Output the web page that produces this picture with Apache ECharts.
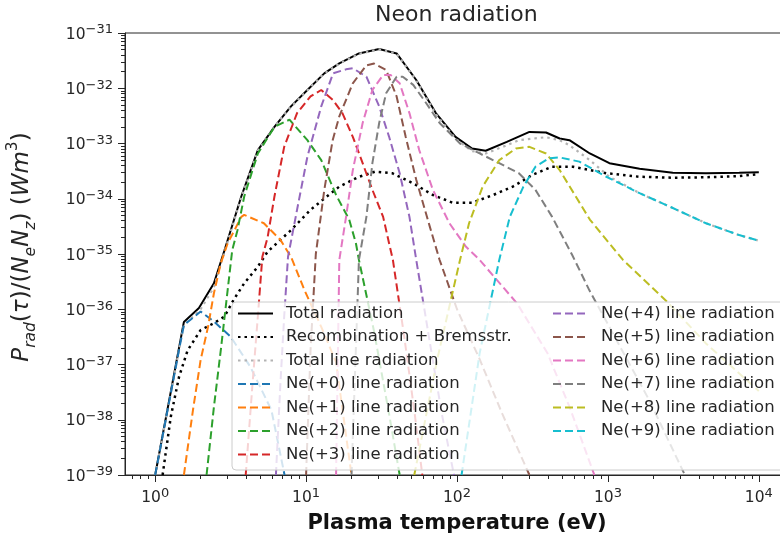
<!DOCTYPE html>
<html>
<head>
<meta charset="utf-8">
<title>Neon radiation</title>
<script src="https://cdn.jsdelivr.net/npm/echarts@6/dist/echarts.min.js"></script>
<style>
  html, body { margin: 0; padding: 0; background: #ffffff; }
  #chart { width: 780px; height: 537px; }
</style>
</head>
<body>
<div id="chart"></div>
<script>
// ---- Data: temperature T (eV) and radiated power coefficient P (W m^3) ----
const seriesNames = [
  'Total radiation', 'Recombination + Bremsstr.', 'Total line radiation',
  'Ne(+0) line radiation', 'Ne(+1) line radiation', 'Ne(+2) line radiation', 'Ne(+3) line radiation',
  'Ne(+4) line radiation', 'Ne(+5) line radiation', 'Ne(+6) line radiation', 'Ne(+7) line radiation',
  'Ne(+8) line radiation', 'Ne(+9) line radiation'
];

const totalT = [1.0, 1.55, 1.95, 2.45, 2.88, 3.72, 4.79, 6.17, 7.94, 10.2, 13.2, 16.6, 22.4, 30.5, 39.8, 53.7, 72.4, 97.7, 125.9, 154.9, 213.8, 302, 389, 479, 556, 759, 1023, 1622, 2692, 4467, 7413, 10000];
const totalP = [1.0e-39, 5.9e-37, 1.05e-36, 2.95e-36, 1.17e-35, 1.10e-34, 7.6e-34, 2.0e-33, 4.7e-33, 9.3e-33, 1.86e-32, 2.82e-32, 4.27e-32, 5.13e-32, 4.27e-32, 1.41e-32, 3.55e-33, 1.32e-33, 8.1e-34, 7.4e-34, 1.07e-33, 1.62e-33, 1.58e-33, 1.23e-33, 1.15e-33, 6.6e-34, 4.4e-34, 3.5e-34, 2.95e-34, 2.88e-34, 2.95e-34, 3.02e-34];

const recombT = [1.12, 1.27, 1.44, 1.64, 2.0, 2.45, 2.88, 3.31, 3.89, 4.79, 5.56, 7.94, 10.7, 14.6, 16.6, 22.4, 28.8, 37.2, 51.3, 69.2, 93.3, 125.9, 173.8, 234.4, 316, 427, 589, 977, 1622, 2692, 4467, 7413, 10000];
const recombP = [1.0e-39, 1.15e-38, 6.0e-38, 1.8e-37, 4.2e-37, 5.6e-37, 7.4e-37, 1.48e-36, 2.95e-36, 5.9e-36, 1.1e-35, 2.7e-35, 6.3e-35, 1.26e-34, 1.66e-34, 2.5e-34, 3.1e-34, 2.9e-34, 1.9e-34, 1.17e-34, 8.5e-35, 8.5e-35, 1.17e-34, 1.66e-34, 2.7e-34, 3.8e-34, 3.8e-34, 2.9e-34, 2.5e-34, 2.4e-34, 2.45e-34, 2.57e-34, 2.8e-34];

const lineTotT = [1.0, 1.48, 1.55, 2.0, 2.45, 2.88, 3.72, 4.79, 6.17, 7.94, 10.2, 13.2, 16.6, 22.4, 30.5, 39.8, 53.7, 72.4, 97.7, 125.9, 154.9, 213.8, 257, 389, 479, 556, 759, 1023, 1622, 2692, 4467, 7413, 10000];
const lineTotP = [1.0e-39, 2.75e-37, 5.2e-37, 1.0e-36, 2.5e-36, 1.1e-35, 1.05e-34, 7.4e-34, 2.0e-33, 4.6e-33, 9.2e-33, 1.85e-32, 2.8e-32, 4.2e-32, 5.05e-32, 4.2e-32, 1.38e-32, 3.4e-33, 1.22e-33, 7.3e-34, 6.6e-34, 9.3e-34, 1.15e-33, 1.3e-33, 1.15e-33, 9.3e-34, 5.0e-34, 2.5e-34, 1.26e-34, 6.8e-35, 3.6e-35, 2.2e-35, 1.74e-35];

const ne0T = [1.0, 1.48, 1.55, 2.0, 2.45, 3.16, 4.27, 5.89, 7.2];
const ne0P = [1.0e-39, 2.75e-37, 5.2e-37, 9.1e-37, 6.0e-37, 3.2e-37, 9.1e-38, 1.5e-38, 1.0e-39];

const ne1T = [1.55, 1.78, 2.0, 2.24, 2.45, 2.72, 3.02, 3.72, 3.89, 5.25, 6.76, 7.94, 9.77, 12.6, 15.8, 17.8, 20.0];
const ne1P = [1.0e-39, 1.5e-38, 1.2e-37, 4.8e-37, 1.95e-36, 6.8e-36, 1.55e-35, 4.7e-35, 5.1e-35, 3.6e-35, 1.8e-35, 8.9e-36, 2.2e-36, 4.8e-37, 1.1e-37, 1.0e-38, 1.0e-39];

const ne2T = [2.19, 2.45, 2.72, 3.02, 3.24, 3.51, 3.89, 4.79, 6.17, 7.76, 10.2, 12.6, 15.8, 19.3, 21.4, 22.4, 28.2, 35.5, 41.7];
const ne2P = [1.0e-39, 1.7e-38, 1.8e-37, 2.2e-36, 1.17e-35, 2.7e-35, 1.1e-34, 6.6e-34, 2.0e-33, 2.7e-33, 1.15e-33, 5.0e-34, 1.17e-34, 4.2e-35, 1.55e-35, 7.8e-36, 4.0e-37, 1.26e-38, 1.0e-39];

const ne3T = [3.98, 4.42, 4.79, 5.13, 5.56, 6.17, 7.16, 8.71, 10.7, 12.6, 15.0, 17.4, 20.4, 23.7, 27.5, 32.4, 35.5, 37.6, 44.7, 52.5, 58.9];
const ne3P = [1.0e-39, 4.6e-38, 7.4e-37, 8.9e-36, 2.0e-35, 1.1e-34, 8.7e-34, 3.55e-33, 7.1e-33, 9.3e-33, 6.2e-33, 3.55e-33, 1.32e-33, 4.4e-34, 1.45e-34, 4.7e-35, 1.55e-35, 7.8e-36, 3.2e-37, 1.26e-38, 1.0e-39];

const ne4T = [6.31, 6.76, 7.16, 7.59, 8.71, 10.2, 12.6, 15.1, 18.4, 20.4, 25.1, 30.5, 35.5, 41.7, 48.4, 53.7, 66.1, 79.4, 95.5];
const ne4P = [1.0e-39, 4.6e-38, 7.4e-37, 8.9e-36, 6.3e-35, 5.75e-34, 4.7e-33, 1.86e-32, 2.2e-32, 2.3e-32, 1.62e-32, 4.7e-33, 1.32e-33, 2.9e-34, 4.7e-35, 7.8e-36, 2.5e-37, 1.26e-38, 1.0e-39];

const ne5T = [10.0, 10.7, 11.6, 13.2, 15.0, 16.6, 20.4, 25.1, 28.2, 33.9, 39.8, 45.7, 53.7, 66.1, 76.7, 100, 141, 200, 302];
const ne5P = [1.0e-39, 1.8e-37, 1.0e-35, 1.45e-34, 1.15e-33, 3.1e-33, 1.23e-32, 2.6e-32, 2.8e-32, 2.15e-32, 7.1e-33, 1.32e-33, 2.2e-34, 3.1e-35, 7.8e-36, 1.0e-36, 1.26e-37, 1.26e-38, 1.0e-39];

const ne6T = [15.8, 16.6, 18.4, 20.4, 23.7, 27.5, 32.4, 36.3, 41.7, 48.4, 56.2, 69.2, 89.1, 114.8, 141.3, 251, 398, 562, 813];
const ne6P = [1.0e-39, 7.8e-36, 4.7e-35, 3.3e-34, 2.35e-33, 9.3e-33, 1.74e-32, 1.74e-32, 1.23e-32, 3.55e-33, 7.6e-34, 1.45e-34, 3.6e-35, 1.35e-35, 7.8e-36, 1.26e-36, 1.6e-37, 1.6e-38, 1.0e-39];

const ne7T = [20.0, 22.4, 25.1, 27.5, 30.5, 33.9, 39.8, 43.7, 51.3, 62.4, 76.7, 104.7, 141.3, 190.5, 257, 331, 427, 581, 754, 1194, 1888, 3236];
const ne7P = [1.0e-39, 7.8e-36, 4.7e-35, 4.4e-34, 2.35e-33, 8.1e-33, 1.62e-32, 1.62e-32, 1.15e-32, 5.4e-33, 2.35e-33, 1.0e-33, 6.6e-34, 4.4e-34, 2.9e-34, 1.45e-34, 4.7e-35, 9.5e-36, 2.2e-36, 2.2e-37, 2.2e-38, 1.0e-39];

const ne8T = [52.1, 74.1, 104.7, 120.2, 147.9, 190.5, 245.5, 302, 389, 479, 759, 1259, 2455, 4467, 10000];
const ne8P = [1.0e-39, 1.26e-37, 7.8e-36, 3.6e-35, 1.66e-34, 5.0e-34, 8.1e-34, 8.7e-34, 6.6e-34, 3.3e-34, 4.2e-35, 7.8e-36, 1.38e-36, 2.4e-37, 3.3e-38];

const ne9T = [107.2, 141.3, 190.5, 223.9, 275.4, 331, 407, 479, 646, 977, 1622, 2692, 4467, 7413, 10000];
const ne9P = [1.0e-39, 1.6e-37, 7.8e-36, 4.7e-35, 1.66e-34, 3.8e-34, 5.4e-34, 5.6e-34, 4.7e-34, 2.5e-34, 1.26e-34, 6.8e-35, 3.6e-35, 2.2e-35, 1.74e-35];

// ---- Axis ticks ----
// x: log axis on T; y: decades of P (power-of-ten exponents)
const xMajorTicks = [1, 10, 100, 1000, 10000];
const yMajorExps = [-39, -38, -37, -36, -35, -34, -33, -32, -31];

const xMinorTicks = [];
for (let e = -1; e <= 4; e++) {
  for (let k = 2; k <= 9; k++) xMinorTicks.push(Number((k * Math.pow(10, e)).toPrecision(3)));
}
const yMinorExps = [];
for (let e = -39; e <= -32; e++) {
  for (let k = 2; k <= 9; k++) yMinorExps.push(e + Math.log10(k));
}

const X_MIN = Math.pow(10, -0.2), X_MAX = Math.pow(10, 4.2);
const Y_MIN_EXP = -39, Y_MAX_EXP = -31;

// ---- Styles ----
const FONT = 'DejaVu Sans';
const INK = '#262626';
const tab10 = ['#1f77b4', '#ff7f0e', '#2ca02c', '#d62728', '#9467bd', '#8c564b', '#e377c2', '#7f7f7f', '#bcbd22', '#17becf'];

// each point is [T, log10(P)] on the decade axis
function pairs(T, P) { return T.map((t, i) => [t, Math.log10(P[i])]); }

function expText(e) { return e < 0 ? '\u2212' + (-e) : String(e); }
function xLabel(v) { return '{b|10}{s|' + expText(Math.round(Math.log10(v))) + '}'; }
function yLabel(v) { return '{b|10}{s|' + expText(Math.round(v)) + '}'; }
const powRich = {
  b: { fontSize: 15.5, fontFamily: FONT, color: INK, verticalAlign: 'bottom' },
  s: { fontSize: 13, fontFamily: FONT, color: INK, verticalAlign: 'bottom', padding: [0, 0, 6, 0] }
};

const lineSeries = [
  { name: seriesNames[0], T: totalT, P: totalP, color: '#000000', width: 2, type: 'solid' },
  { name: seriesNames[1], T: recombT, P: recombP, color: '#000000', width: 2.5, type: [2.5, 4] },
  { name: seriesNames[2], T: lineTotT, P: lineTotP, color: '#b3b3b3', width: 2.2, type: [2.5, 4] },
  { name: seriesNames[3], T: ne0T, P: ne0P, color: tab10[0], width: 2, type: [8, 4] },
  { name: seriesNames[4], T: ne1T, P: ne1P, color: tab10[1], width: 2, type: [8, 4] },
  { name: seriesNames[5], T: ne2T, P: ne2P, color: tab10[2], width: 2, type: [8, 4] },
  { name: seriesNames[6], T: ne3T, P: ne3P, color: tab10[3], width: 2, type: [8, 4] },
  { name: seriesNames[7], T: ne4T, P: ne4P, color: tab10[4], width: 2, type: [8, 4] },
  { name: seriesNames[8], T: ne5T, P: ne5P, color: tab10[5], width: 2, type: [8, 4] },
  { name: seriesNames[9], T: ne6T, P: ne6P, color: tab10[6], width: 2, type: [8, 4] },
  { name: seriesNames[10], T: ne7T, P: ne7P, color: tab10[7], width: 2, type: [8, 4] },
  { name: seriesNames[11], T: ne8T, P: ne8P, color: tab10[8], width: 2, type: [8, 4] },
  { name: seriesNames[12], T: ne9T, P: ne9P, color: tab10[9], width: 2, type: [8, 4] }
];

const legendText = { fontSize: 16.5, fontFamily: FONT, color: INK, padding: [0, 0, 0, 8] };
const legendItemStyle = { color: 'rgba(0,0,0,0)', borderColor: 'rgba(0,0,0,0)', borderWidth: 0 };

const option = {
  animation: false,
  backgroundColor: '#ffffff',
  title: {
    text: 'Neon radiation',
    left: 375, top: 4, padding: 0,
    textStyle: { fontSize: 22, fontWeight: 'normal', fontFamily: FONT, color: INK }
  },
  grid: {
    left: 125, top: 33, width: 664, height: 442,
    show: true, borderColor: INK, borderWidth: 1, backgroundColor: 'transparent',
    outerBoundsMode: 'none', containLabel: false
  },
  legend: [
    {
      data: seriesNames.slice(0, 7),
      orient: 'vertical', left: 232, top: 302,
      padding: [3, 300, 7, 5], itemGap: 6.5, itemWidth: 35, itemHeight: 14,
      backgroundColor: 'rgba(255,255,255,0.8)', borderColor: '#cccccc', borderWidth: 1, borderRadius: 4,
      selectedMode: false, textStyle: legendText, itemStyle: legendItemStyle, z: 10
    },
    {
      data: seriesNames.slice(7),
      orient: 'vertical', left: 552, top: 305,
      padding: 0, itemGap: 6.5, itemWidth: 35, itemHeight: 14,
      selectedMode: false, textStyle: legendText, itemStyle: legendItemStyle, z: 11
    }
  ],
  xAxis: [
    {
      type: 'log', logBase: 10, min: X_MIN, max: X_MAX, position: 'bottom',
      name: 'Plasma temperature (eV)', nameLocation: 'middle', nameGap: 38,
      nameTextStyle: { fontSize: 21, fontWeight: 'bold', fontFamily: FONT, color: '#111111' },
      axisLine: { show: true, onZero: false, lineStyle: { color: INK, width: 1 } },
      axisTick: { show: true, customValues: xMajorTicks, length: 7, lineStyle: { color: INK, width: 1 } },
      axisLabel: { customValues: xMajorTicks, margin: 12, formatter: xLabel, rich: powRich },
      splitLine: { show: false }, minorTick: { show: false }
    },
    {
      type: 'log', logBase: 10, min: X_MIN, max: X_MAX, position: 'bottom',
      axisLine: { show: false },
      axisTick: { show: true, customValues: xMinorTicks, length: 4, lineStyle: { color: INK, width: 1 } },
      axisLabel: { show: false }, splitLine: { show: false }
    }
  ],
  yAxis: [
    {
      type: 'value', min: Y_MIN_EXP, max: Y_MAX_EXP, interval: 1, position: 'left',
      name: '{i|P}{is|rad}{n|(}{i|\u03c4}{n|)/(}{i|N}{is|e}{i|N}{is|z}{n|) (}{i|Wm}{ip|3}{n|)}',
      nameLocation: 'middle', nameGap: 86, nameRotate: 90,
      nameTextStyle: {
        padding: [0, 0, 0, 14],
        rich: {
          n: { fontSize: 23, fontFamily: FONT, color: INK, verticalAlign: 'bottom', padding: [0, 0, 5, 0] },
          i: { fontSize: 23, fontFamily: FONT, fontStyle: 'italic', color: INK, verticalAlign: 'bottom', padding: [0, 0, 5, 0] },
          is: { fontSize: 15.5, fontFamily: FONT, fontStyle: 'italic', color: INK, verticalAlign: 'bottom', padding: [0, 0, 0, 0] },
          ip: { fontSize: 15.5, fontFamily: FONT, color: INK, verticalAlign: 'bottom', padding: [0, 0, 18, 0] }
        }
      },
      axisLine: { show: true, onZero: false, lineStyle: { color: INK, width: 1 } },
      axisTick: { show: true, length: 7, lineStyle: { color: INK, width: 1 } },
      axisLabel: { margin: 12, formatter: yLabel, rich: powRich, customValues: yMajorExps },
      splitLine: { show: false }, minorTick: { show: false }
    },
    {
      type: 'value', min: Y_MIN_EXP, max: Y_MAX_EXP, position: 'left',
      axisLine: { show: false },
      axisTick: { show: true, customValues: yMinorExps, length: 4, lineStyle: { color: INK, width: 1 } },
      axisLabel: { show: false }, splitLine: { show: false }
    }
  ],
  series: lineSeries.map(s => ({
    name: s.name,
    type: 'line',
    xAxisIndex: 0, yAxisIndex: 0,
    data: pairs(s.T, s.P),
    symbol: 'none', showSymbol: false, smooth: false, clip: true,
    lineStyle: { color: s.color, width: s.width, type: s.type, cap: 'butt' },
    itemStyle: { color: s.color },
    emphasis: { disabled: true },
    silent: true
  }))
};

const chart = echarts.init(document.getElementById('chart'), null, { renderer: 'canvas' });
chart.setOption(option);
</script>
</body>
</html>
